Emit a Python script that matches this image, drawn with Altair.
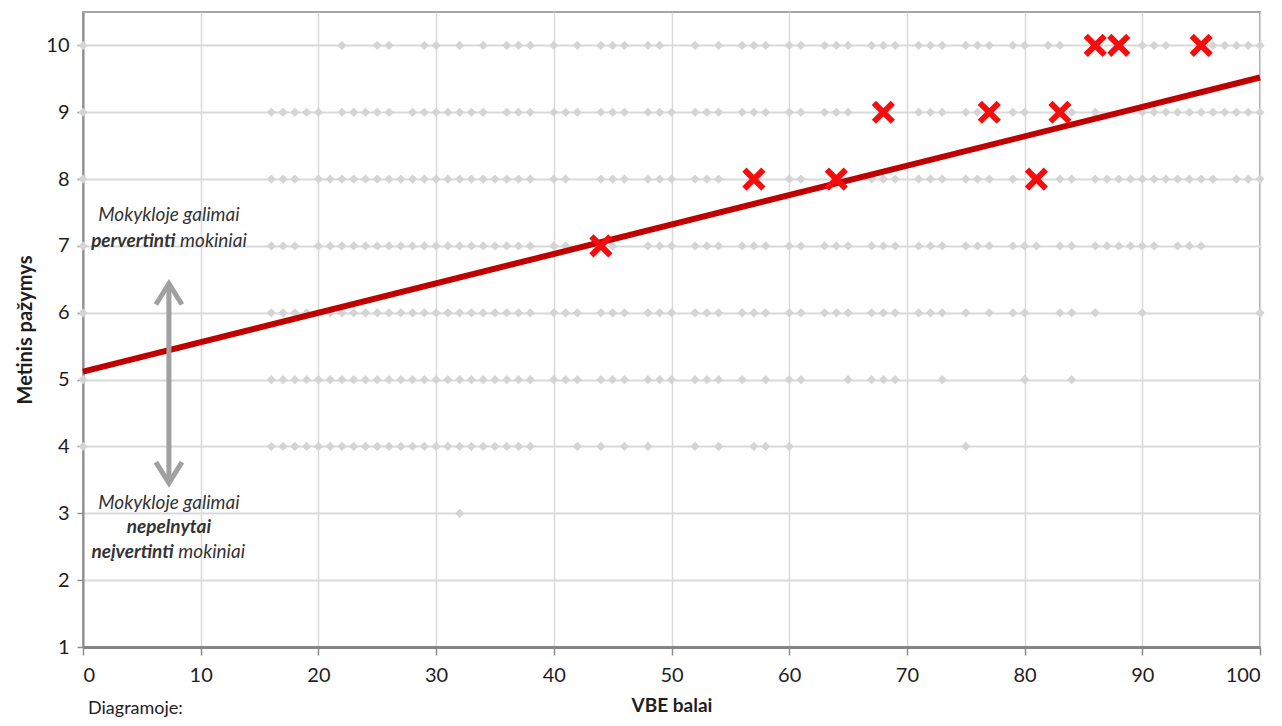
import altair as alt
import pandas as pd

# ---- axis ticks ----
x_ticks = [0, 10, 20, 30, 40, 50, 60, 70, 80, 90, 100]
y_ticks = [1, 2, 3, 4, 5, 6, 7, 8, 9, 10]

# ---- gray points: VBE score per annual grade ----
row10 = [0, 22, 25, 26, 29, 30, 32, 34, 36, 37, 38, 40, 42, 44, 45, 46, 48, 49, 52, 54, 56, 57, 58,
         60, 61, 63, 64, 65, 67, 68, 69, 71, 72, 73, 75, 76, 77, 79, 80, 82, 83, 90, 91, 92,
         96, 97, 98, 99, 100]
row9 = [0, 16, 17, 18, 19, 20, 22, 23, 24, 25, 26, 28, 29, 30, 31, 32, 33, 34, 36, 37, 38, 40, 41, 42,
        44, 45, 46, 48, 49, 50, 52, 53, 54, 56, 57, 58, 60, 61, 63, 64, 65, 71, 72, 73, 75, 76, 79, 80,
        84, 86, 90, 91, 92, 93, 94, 95, 96, 97, 98, 99, 100]
row8 = [0, 16, 17, 18, 20, 21, 22, 23, 24, 25, 26, 27, 28, 29, 30, 31, 32, 33, 34, 35, 36, 37, 38,
        40, 41, 44, 45, 46, 48, 49, 50, 52, 53, 54, 60, 61, 67, 68, 69, 71, 72, 73, 75, 76, 77, 79,
        83, 84, 86, 87, 88, 89, 90, 91, 92, 93, 94, 95, 96, 98, 99, 100]
row7 = [0, 16, 17, 18, 20, 21, 22, 23, 24, 25, 26, 27, 28, 29, 30, 31, 32, 33, 34, 35, 36, 37, 38,
        40, 41, 45, 48, 49, 50, 52, 53, 54, 56, 57, 58, 60, 61, 63, 64, 65, 67, 68, 69, 71, 72, 73,
        75, 76, 77, 79, 80, 81, 83, 84, 86, 87, 88, 89, 90, 91, 93, 94, 95]
row6 = [0, 16, 17, 18, 19, 20, 21, 22, 23, 24, 25, 26, 27, 28, 29, 30, 31, 32, 33, 34, 35, 36, 37, 38,
        40, 41, 42, 44, 45, 46, 48, 49, 50, 52, 53, 54, 56, 57, 58, 60, 61, 63, 64, 65, 67, 68, 69,
        71, 72, 73, 75, 77, 79, 80, 83, 84, 86, 90, 100]
row5 = [0, 16, 17, 18, 19, 20, 21, 22, 23, 24, 25, 26, 27, 28, 29, 30, 31, 32, 33, 34, 35, 36, 37, 38,
        40, 41, 42, 44, 45, 46, 48, 49, 50, 52, 53, 54, 56, 58, 60, 61, 65, 67, 68, 69, 73, 80, 84]
row4 = [0, 16, 17, 18, 19, 20, 21, 22, 23, 24, 25, 26, 27, 28, 29, 30, 31, 32, 33, 34, 35, 36, 37, 38,
        42, 44, 46, 48, 52, 54, 57, 58, 60, 75]
row3 = [32]

# ---- highlighted students (red crosses) ----
mark_x = [44, 57, 64, 68, 77, 81, 83, 86, 88, 95]
mark_y = [7, 8, 8, 9, 9, 8, 9, 10, 10, 10]

# ---- trend line ----
trend_x = [0, 100]
trend_y = [5.12, 9.52]

# ---- annotation texts ----
note_center_text = ["Mokykloje galimai", "Mokykloje galimai"]
note_center_x = [7.3, 7.3]
note_center_y = [7.47, 3.16]
note_bold_right_text = ["pervertinti", "neįvertinti"]
note_bold_right_x = [7.85, 7.7]
note_bold_right_y = [7.07, 2.42]
note_left_text = ["mokiniai", "mokiniai"]
note_left_x = [8.25, 8.1]
note_left_y = [7.07, 2.42]
note_bold_center_text = ["nepelnytai"]
note_bold_center_x = [7.3]
note_bold_center_y = [2.79]

arrow_x = [7.3]
arrow_top = [6.45]
arrow_bottom = [3.45]
arrow_head_up_y = [6.28]
arrow_head_down_y = [3.61]

W, H = 1177, 635
FONT = "Lato"

rows = {10: row10, 9: row9, 8: row8, 7: row7, 6: row6, 5: row5, 4: row4, 3: row3}
dots = pd.DataFrame([{"x": x, "y": y} for y, xs in rows.items() for x in xs])
marks = pd.DataFrame({"x": mark_x, "y": mark_y})
trend = pd.DataFrame({"x": trend_x, "y": trend_y})

xs = alt.Scale(domain=[0, 100], nice=False, zero=False)
ys = alt.Scale(domain=[1, 10.5], nice=False, zero=False)
X = alt.X("x:Q", scale=xs, title="VBE balai",
          axis=alt.Axis(values=x_ticks, labelFontSize=20, tickSize=8, labelPadding=10,
                        titleFontSize=19, titleFontWeight="bold", titlePadding=11,
                        domainWidth=3, domainColor="#858585", gridWidth=1.5))
Y = alt.Y("y:Q", scale=ys, title="Metinis pažymys",
          axis=alt.Axis(values=y_ticks, labelFontSize=20, tickSize=6, labelPadding=8,
                        titleFontSize=20, titleFontWeight="bold", titlePadding=10,
                        domainWidth=2, gridWidth=2))

dots_layer = alt.Chart(dots).mark_point(shape="diamond", filled=True, color="#d4d4d4",
                                        size=85, opacity=1).encode(x=X, y=Y)
trend_layer = alt.Chart(trend).mark_line(color="#c00000", strokeWidth=6).encode(x=X, y=Y)
cross_layer = alt.Chart(marks).mark_point(shape="M-1,-1L1,1M1,-1L-1,1", filled=False,
                                          stroke="#f50d0d", strokeWidth=6, size=360,
                                          opacity=1).encode(x=X, y=Y)

arrow_df = pd.DataFrame({"x": arrow_x, "y": arrow_top, "y2": arrow_bottom})
shaft = alt.Chart(arrow_df).mark_rule(color="#a0a0a0", strokeWidth=5).encode(
    x=X, y=Y, y2="y2:Q")
head_up = alt.Chart(pd.DataFrame({"x": arrow_x, "y": arrow_head_up_y})).mark_point(
    shape="M-1,0.8L0,-0.8L1,0.8", filled=False, stroke="#a0a0a0", strokeWidth=5,
    size=680, opacity=1, strokeJoin="miter").encode(x=X, y=Y)
head_down = alt.Chart(pd.DataFrame({"x": arrow_x, "y": arrow_head_down_y})).mark_point(
    shape="M-1,-0.8L0,0.8L1,-0.8", filled=False, stroke="#a0a0a0", strokeWidth=5,
    size=680, opacity=1, strokeJoin="miter").encode(x=X, y=Y)

TXT = dict(font=FONT, fontSize=19, fontStyle="italic", color="#333333", baseline="middle")
t1 = alt.Chart(pd.DataFrame({"x": note_center_x, "y": note_center_y, "t": note_center_text})).mark_text(
    align="center", **TXT).encode(x=X, y=Y, text="t:N")
t2 = alt.Chart(pd.DataFrame({"x": note_bold_right_x, "y": note_bold_right_y, "t": note_bold_right_text})).mark_text(
    align="right", fontWeight="bold", **TXT).encode(x=X, y=Y, text="t:N")
t3 = alt.Chart(pd.DataFrame({"x": note_left_x, "y": note_left_y, "t": note_left_text})).mark_text(
    align="left", **TXT).encode(x=X, y=Y, text="t:N")
t4 = alt.Chart(pd.DataFrame({"x": note_bold_center_x, "y": note_bold_center_y, "t": note_bold_center_text})).mark_text(
    align="center", fontWeight="bold", **TXT).encode(x=X, y=Y, text="t:N")

diag = alt.Chart(pd.DataFrame({"t": ["Diagramoje:"]})).mark_text(
    align="left", baseline="bottom", font=FONT, fontSize=18, color="#222222").encode(
    x=alt.value(5), y=alt.value(H + 71), text="t:N")

chart = alt.layer(dots_layer, trend_layer, shaft, head_up, head_down, cross_layer,
                  t1, t2, t3, t4, diag).properties(
    width=W, height=H,
    padding={"left": 75, "top": 4, "right": 14, "bottom": 71},
    autosize=alt.AutoSizeParams(type="none"),
    background="white",
).configure_axis(
    gridColor="#d9d9d9", domainColor="#8c8c8c", tickColor="#8c8c8c",
    labelFont=FONT, titleFont=FONT, labelColor="#1e1e1e", titleColor="#1e1e1e",
    tickWidth=1.5,
).configure_view(stroke="#a6a6a6", strokeWidth=2)

chart.save("out.html", embed_options={"renderer": "svg", "actions": False})
